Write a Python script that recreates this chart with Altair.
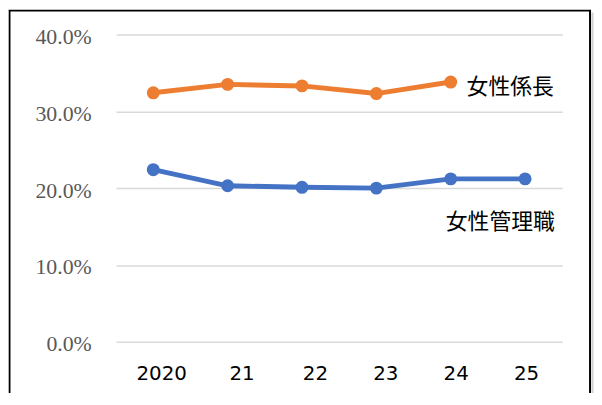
import altair as alt
import pandas as pd

years = ["2020", "21", "22", "23", "24", "25"]
kakaricho = [0.324, 0.335, 0.333, 0.323, 0.338, None]   # 女性係長
kanrishoku = [0.224, 0.203, 0.201, 0.200, 0.212, 0.212]  # 女性管理職
series_names = ["女性係長", "女性管理職"]
series_colors = ["#ED7D31", "#4472C4"]
y_ticks = [0.0, 0.1, 0.2, 0.3, 0.4]

rows = []
for name, vals in zip(series_names, [kakaricho, kanrishoku]):
    for yr, v in zip(years, vals):
        if v is not None:
            rows.append({"year": yr, "value": v, "series": name})
df = pd.DataFrame(rows)

W, H = 450, 310

x_axis = alt.Axis(
    title=None, labelAngle=0, ticks=False, tickSize=0, domain=False, grid=False,
    labelFont="DejaVu Sans", labelFontSize=20, labelColor="#000000",
    labelPadding=22,
    labelOffset={"expr": "datum.value == '2020' ? 8 : datum.value == '21' ? 14 : datum.value == '22' ? 13 : datum.value == '23' ? 9 : datum.value == '24' ? 5 : 1"},
)
y_axis = alt.Axis(
    title=None, values=y_ticks, format=".1%", ticks=False, tickSize=0, domain=False,
    grid=True, gridColor="#D9D9D9", gridWidth=1.5,
    labelFont="Liberation Serif", labelFontSize=22, labelColor="#595959",
    labelPadding=25, labelOffset=2,
)
x_enc = alt.X("year:N", sort=years, scale=alt.Scale(type="point", padding=0.5), axis=x_axis)
y_enc = alt.Y("value:Q", scale=alt.Scale(domain=[0, 0.4], nice=False), axis=y_axis)
color_enc = alt.Color("series:N", scale=alt.Scale(domain=series_names, range=series_colors), legend=None)

base = alt.Chart(df)
lines = base.mark_line(strokeWidth=5).encode(x=x_enc, y=y_enc, color=color_enc)
points = base.mark_point(filled=True, size=170, opacity=1, shape="circle").encode(
    x=x_enc, y=y_enc, color=color_enc
)

lab1 = alt.Chart(df[(df.series == "女性係長") & (df.year == "24")]).mark_text(
    align="left", baseline="middle", dx=16, dy=5, font="Noto Sans CJK JP", fontSize=22, color="#000000"
).encode(x=x_enc, y=y_enc, text="series:N")
lab2 = alt.Chart(df[(df.series == "女性管理職") & (df.year == "24")]).mark_text(
    align="center", baseline="middle", dx=50, dy=44, font="Noto Sans CJK JP", fontSize=22, color="#000000"
).encode(x=x_enc, y=y_enc, text="series:N")

frame_df = pd.DataFrame({"k": [0]})
frame = alt.Chart(frame_df).mark_rect(filled=False, stroke="#000000", strokeWidth=2).encode(
    x=alt.value(-107.5), x2=alt.value(478), y=alt.value(-24), y2=alt.value(420)
)
shadow = alt.Chart(frame_df).mark_rule(stroke="#D0D0D0", strokeWidth=2).encode(
    x=alt.value(480.5), y=alt.value(-22), y2=alt.value(420)
)
shadow_l = alt.Chart(frame_df).mark_rule(stroke="#E0E0E0", strokeWidth=1.5).encode(
    x=alt.value(-109.2), y=alt.value(-24), y2=alt.value(420)
)

chart = alt.layer(lines, points, lab1, lab2, frame, shadow, shadow_l).properties(
    width=W, height=H,
    autosize=alt.AutoSizeParams(type="none"),
    padding={"left": 109, "top": 25, "right": 32, "bottom": 50},
    background="#FFFFFF",
).configure_view(stroke=None)

chart.save("out.html", embed_options={"renderer": "svg", "actions": False})
